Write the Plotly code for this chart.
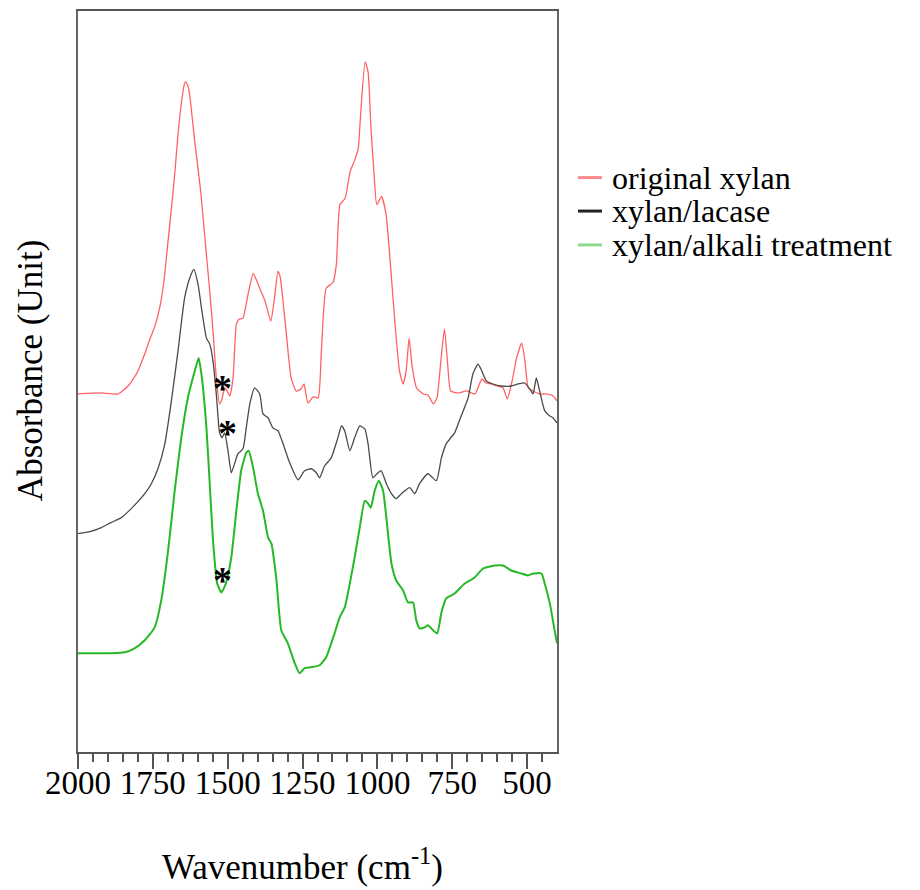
import plotly.graph_objects as go

# FTIR spectra (stacked, arbitrary absorbance units)
wn_original = [2000, 1927, 1866, 1833, 1803, 1776, 1760, 1743, 1726, 1713, 1701, 1688, 1677, 1668,
               1657, 1646, 1641, 1634, 1627, 1610, 1590, 1575, 1560, 1549, 1538, 1527, 1519, 1510,
               1502, 1493, 1482, 1471, 1462, 1449, 1432, 1415, 1405, 1393, 1375, 1356, 1345, 1332,
               1325, 1315, 1304, 1288, 1271, 1255, 1245, 1232, 1215, 1198, 1187, 1171, 1148, 1137,
               1125, 1108, 1091, 1075, 1064, 1056, 1041, 1031, 1022, 1011, 1002, 986, 971, 958, 941,
               926, 914, 904, 894, 884, 869, 847, 831, 813, 801, 788, 776, 766, 755, 731, 702, 674,
               651, 637, 620, 601, 580, 566, 550, 535, 518, 507, 496, 480, 457, 437, 413, 400]
abs_original = [.359, .360, .359, .367, .380, .400, .414, .427, .447, .472, .507, .545, .579, .612,
                .645, .668, .672, .669, .659, .612, .562, .512, .462, .422, .375, .349, .354, .365,
                .362, .357, .375, .429, .434, .435, .459, .480, .474, .465, .452, .432, .452, .482,
                .477, .452, .419, .375, .362, .364, .369, .350, .356, .355, .402, .465, .471, .489,
                .549, .555, .582, .594, .605, .639, .692, .682, .629, .579, .549, .557, .539, .495, .429,
                .382, .369, .382, .415, .387, .365, .359, .358, .349, .355, .392, .424, .392, .362, .360, .362, .359,
                .374, .370, .369, .367, .365, .354, .372, .395, .410, .392, .365, .362, .359, .359, .357, .352]

wn_lacase = [2000, 1960, 1922, 1890, 1855, 1822, 1800, 1777, 1755, 1733, 1710, 1688, 1666, 1644,
             1627, 1613, 1599, 1586, 1571, 1560, 1549, 1538, 1527, 1519, 1510, 1499, 1488, 1477,
             1466, 1449, 1438, 1426, 1410, 1393, 1382, 1365, 1349, 1332, 1315, 1293, 1265, 1243,
             1221, 1204, 1193, 1176, 1154, 1132, 1120, 1109, 1092, 1076, 1059, 1042, 1031, 1015,
             998, 987, 970, 953, 937, 920, 892, 875, 859, 831, 803, 786, 770, 742, 720, 697, 681,
             664, 654, 636, 614, 586, 553, 530, 508, 491, 480, 469, 458, 441, 424, 413, 400]
abs_lacase = [.219, .221, .225, .230, .235, .244, .251, .259, .269, .284, .309, .352, .402, .455,
              .475, .484, .469, .442, .415, .409, .392, .359, .320, .315, .320, .302, .280, .289,
              .299, .304, .325, .349, .365, .359, .339, .335, .325, .322, .309, .290, .273, .282,
              .284, .280, .275, .287, .295, .315, .327, .322, .302, .315, .327, .324, .309, .275,
              .280, .282, .269, .259, .254, .259, .265, .259, .269, .279, .272, .295, .309, .320, .337, .355, .379,
              .389, .384, .372, .369, .367, .367, .369, .370, .364, .359, .375, .362, .342, .337, .335, .330]

wn_alkali = [2000, 1943, 1890, 1844, 1811, 1777, 1744, 1722, 1699, 1677, 1655, 1633, 1610, 1597,
             1586, 1571, 1560, 1549, 1535, 1521, 1506, 1488, 1471, 1455, 1438, 1430, 1415, 1399,
             1382, 1365, 1354, 1338, 1321, 1299, 1276, 1260, 1243, 1221, 1193, 1171, 1143, 1126,
             1109, 1092, 1076, 1059, 1042, 1031, 1022, 1009, 995, 981, 970, 953, 937, 914, 898,
             881, 870, 859, 842, 831, 814, 800, 786, 770, 742, 708, 675, 647, 608, 580, 553, 519,
             497, 480, 452, 441, 424, 408, 400]
abs_alkali = [.099, .099, .099, .100, .104, .112, .125, .152, .202, .262, .315, .355, .382, .395,
              .375, .325, .269, .212, .169, .160, .169, .195, .242, .282, .300, .302, .285, .259,
              .242, .215, .209, .175, .122, .109, .089, .079, .084, .085, .087, .095, .119, .135,
              .145, .169, .195, .225, .252, .249, .245, .262, .272, .262, .235, .189, .172, .162, .150,
              .150, .132, .124, .125, .127, .122, .119, .140, .154, .159, .169, .175, .184, .187, .187, .182, .179,
              .177, .179, .179, .169, .149, .122, .109]

# band markers (*) near 1510 cm-1
star_wn = [1516, 1501, 1516]
star_abs = [0.374, 0.329, 0.181]

series_names = ["original xylan", "xylan/lacase", "xylan/alkali treatment"]
line_colors = ["#ff6262", "#4a4a4a", "#26b826"]
line_widths = [1.3, 1.3, 2.0]
swatch_colors = ["#ff8a8a", "#222222", "#8fd88f"]

major_ticks = [2000, 1750, 1500, 1250, 1000, 750, 500]
minor_ticks = [v for v in range(1950, 401, -50) if v not in major_ticks]

SERIF = "Liberation Serif, Times New Roman, serif"

fig = go.Figure()
for wn, ab, name, col, w in zip([wn_original, wn_lacase, wn_alkali],
                                [abs_original, abs_lacase, abs_alkali],
                                series_names, line_colors, line_widths):
    fig.add_trace(go.Scatter(x=wn, y=ab, mode="lines", name=name,
                             line=dict(color=col, width=w, shape="spline", smoothing=0.5),
                             showlegend=False))

annotations = []
for sx, sy in zip(star_wn, star_abs):
    annotations.append(dict(x=sx, y=sy, xref="x", yref="y", text="<b>*</b>", showarrow=False,
                            font=dict(family=SERIF, size=38, color="black"),
                            xanchor="center", yanchor="middle", yshift=-9))

# hand-built legend at the right of the plot
legend_y = [0.7752, 0.7300, 0.6843]
shapes = []
for name, col, ly in zip(series_names, swatch_colors, legend_y):
    shapes.append(dict(type="line", xref="paper", yref="paper", x0=1.0438, x1=1.0939,
                       y0=ly, y1=ly, line=dict(color=col, width=3)))
    annotations.append(dict(x=1.1106, y=ly, xref="paper", yref="paper", text=name,
                            showarrow=False, xanchor="left", yanchor="middle",
                            font=dict(family=SERIF, size=32, color="black")))

annotations.append(dict(x=-0.1002, y=0.514, xref="paper", yref="paper", text="Absorbance (Unit)",
                        textangle=-90, showarrow=False, xanchor="center", yanchor="middle",
                        font=dict(family=SERIF, size=35, color="black")))
annotations.append(dict(x=(302 - 78) / 479, y=-0.152, xref="paper", yref="paper",
                        text="Wavenumber (cm<sup>-1</sup>)", showarrow=False,
                        xanchor="center", yanchor="middle",
                        font=dict(family=SERIF, size=35, color="black")))

fig.update_layout(
    width=920, height=890,
    margin=dict(l=78, r=363, t=9, b=138),
    paper_bgcolor="white", plot_bgcolor="white",
    annotations=annotations, shapes=shapes,
    xaxis=dict(range=[2000, 400], tickmode="array", tickvals=major_ticks,
               ticktext=[str(v) for v in major_ticks],
               ticks="outside", ticklen=15, tickwidth=2, tickcolor="#555",
               ticklabelstandoff=-15,
               minor=dict(tickmode="array", tickvals=minor_ticks, ticks="outside",
                          ticklen=8, tickwidth=2, tickcolor="#555", showgrid=False),
               showgrid=False, zeroline=False, showline=True, linecolor="#555",
               linewidth=2, mirror=True,
               tickfont=dict(family=SERIF, size=33, color="black")),
    yaxis=dict(range=[0, 0.743], showticklabels=False, ticks="", showgrid=False,
               zeroline=False, showline=True, linecolor="#666", linewidth=2, mirror=True),
)

fig.write_html("out.html")
